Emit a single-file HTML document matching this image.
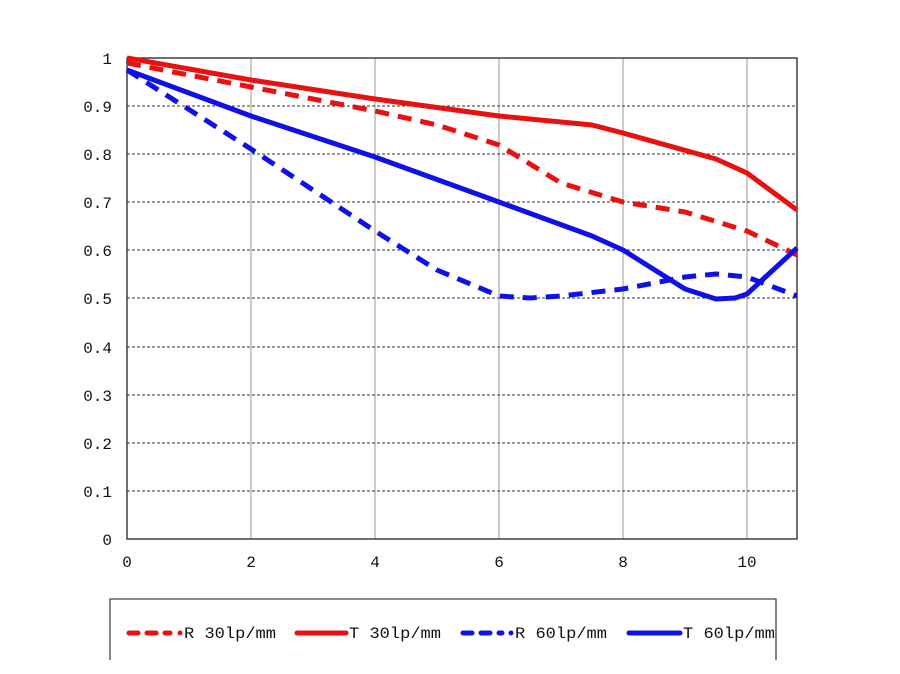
<!DOCTYPE html><html><head><style>body{margin:0;background:#fff}svg{display:block}text{font-family:"Liberation Mono","DejaVu Sans Mono",monospace;font-size:16px;fill:#111}</style></head><body>
<svg width="900" height="674" viewBox="0 0 900 674">
<rect x="0" y="0" width="900" height="674" fill="#fff"/>
<g stroke="#999" stroke-width="1">
<line x1="251" y1="58" x2="251" y2="539"/><line x1="375" y1="58" x2="375" y2="539"/><line x1="499" y1="58" x2="499" y2="539"/><line x1="623" y1="58" x2="623" y2="539"/><line x1="747" y1="58" x2="747" y2="539"/>
</g>
<g stroke="#333" stroke-width="1" stroke-dasharray="3,2">
<line x1="127" y1="106" x2="797" y2="106"/><line x1="127" y1="154" x2="797" y2="154"/><line x1="127" y1="202" x2="797" y2="202"/><line x1="127" y1="250" x2="797" y2="250"/><line x1="127" y1="298" x2="797" y2="298"/><line x1="127" y1="347" x2="797" y2="347"/><line x1="127" y1="395" x2="797" y2="395"/><line x1="127" y1="443" x2="797" y2="443"/><line x1="127" y1="491" x2="797" y2="491"/>
</g>
<rect x="127" y="58" width="670" height="481" fill="none" stroke="#222" stroke-width="1.3"/>
<g text-anchor="end">
<text x="112" y="64">1</text><text x="112" y="112">0.9</text><text x="112" y="160">0.8</text><text x="112" y="208">0.7</text><text x="112" y="256">0.6</text><text x="112" y="304">0.5</text><text x="112" y="353">0.4</text><text x="112" y="401">0.3</text><text x="112" y="449">0.2</text><text x="112" y="497">0.1</text><text x="112" y="545">0</text>
</g>
<g text-anchor="middle">
<text x="127" y="567">0</text><text x="251" y="567">2</text><text x="375" y="567">4</text><text x="499" y="567">6</text><text x="623" y="567">8</text><text x="747" y="567">10</text>
</g>
<g fill="none" stroke-width="5" stroke-linejoin="round" stroke-linecap="butt">
<polyline stroke="#e81010" points="127,58 251,80 375,99 499,116 592,125 623,133 716,159 747,173 797,210"/>
<polyline stroke="#e81010" stroke-dasharray="14,9" points="127,63 251,87 375,111 437,125 499,145 561,183 623,202 685,212 747,231 797,255"/>
<polyline stroke="#1010e8" points="127,70 251,116 375,157 499,202 592,236 623,250 685,289 716,299 735,298 747,294 797,248"/>
<polyline stroke="#1010e8" stroke-dasharray="14,9" points="127,70 251,149 375,231 437,270 499,296 530,298 561,296 623,289 685,277 716,274 747,277 797,296"/>
</g>
<path d="M110,660 V599 H776 V660" fill="none" stroke="#444" stroke-width="1.3"/>
<g stroke-width="5" stroke-linecap="round">
<line x1="129" y1="633" x2="170" y2="633" stroke="#e81010" stroke-dasharray="9,9"/><circle cx="180" cy="633" r="2.5" fill="#e81010" stroke="none"/>
<line x1="297" y1="633" x2="346" y2="633" stroke="#e81010"/>
<line x1="463" y1="633" x2="502" y2="633" stroke="#1010e8" stroke-dasharray="9,9"/><circle cx="511" cy="633" r="2.5" fill="#1010e8" stroke="none"/>
<line x1="629" y1="633" x2="680" y2="633" stroke="#1010e8"/>
</g>
<g>
<text x="184" y="638" textLength="92" lengthAdjust="spacingAndGlyphs">R 30lp/mm</text>
<text x="349" y="638" textLength="92" lengthAdjust="spacingAndGlyphs">T 30lp/mm</text>
<text x="515" y="638" textLength="92" lengthAdjust="spacingAndGlyphs">R 60lp/mm</text>
<text x="683" y="638" textLength="92" lengthAdjust="spacingAndGlyphs">T 60lp/mm</text>
</g>
</svg></body></html>
